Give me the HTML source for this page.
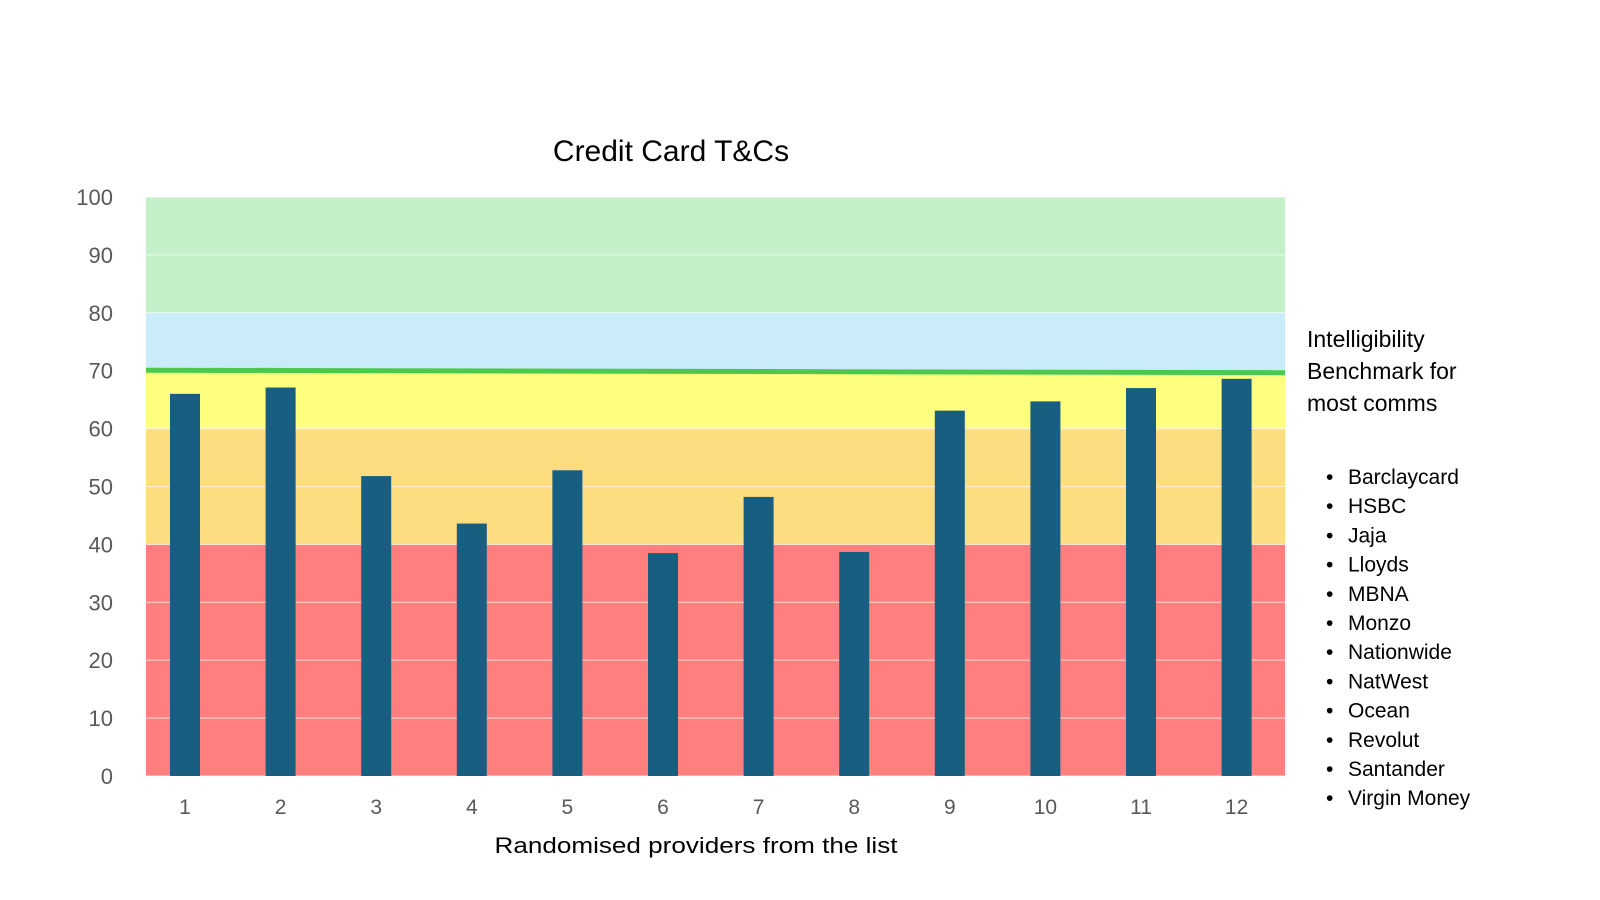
<!DOCTYPE html>
<html><head><meta charset="utf-8"><style>
body{margin:0;background:#fff;width:1600px;height:900px;overflow:hidden;font-family:"Liberation Sans",sans-serif}
svg{display:block}
</style></head><body>
<svg width="1600" height="900" id="chart">
<text x="671" y="161" font-size="30" text-anchor="middle" fill="#000">Credit Card T&amp;Cs</text>
<g id="bands"></g><g id="grid"></g><g id="bars"></g><g id="yticks"></g><g id="xticks"></g>
<text x="696" y="853" font-size="22" textLength="403" lengthAdjust="spacingAndGlyphs" text-anchor="middle" fill="#000">Randomised providers from the list</text>
<g font-size="23" fill="#000">
<text x="1307" y="347">Intelligibility</text><text x="1307" y="379">Benchmark for</text><text x="1307" y="411">most comms</text></g>
<g id="legend" font-size="21" fill="#000"></g>
</svg>
<script>
const categories=["1","2","3","4","5","6","7","8","9","10","11","12"];
const values=[66,67.1,51.8,43.6,52.8,38.5,48.2,38.7,63.1,64.7,67,68.6];
const yTicks=[0,10,20,30,40,50,60,70,80,90,100];
const bandFrom=[0,40,60,70,80];
const bandTo=[40,60,70,80,100];
const bandColors=["#ff7f7f","#fedc80","#ffff7f","#c9ebfa","#c3f0c8"];
const benchmark=70;
const providers=["Barclaycard","HSBC","Jaja","Lloyds","MBNA","Monzo","Nationwide","NatWest","Ocean","Revolut","Santander","Virgin Money"];
const NS="http://www.w3.org/2000/svg";
const X0=146,X1=1285,Y0=776,Y1=197;
const y=v=>Y0-(v/100)*(Y0-Y1);
const step=95.6, first=185;
const x=i=>first+step*i;
function mk(tag,attrs,parent,txt){const e=document.createElementNS(NS,tag);for(const k in attrs)e.setAttribute(k,attrs[k]);if(txt!==undefined)e.textContent=txt;document.getElementById(parent).appendChild(e);return e;}
bandFrom.forEach((f,i)=>{const e=mk('rect',{x:X0,y:y(bandTo[i]),width:X1-X0,height:y(f)-y(bandTo[i]),fill:bandColors[i]},'bands');

});
yTicks.forEach(t=>{const g=mk('line',{x1:X0,x2:X1,y1:y(t),y2:y(t),stroke:'#ffffff','stroke-opacity':0.6,'stroke-width':1.2},'grid');


const l=mk('text',{x:113,y:y(t)+8,'font-size':22,'text-anchor':'end',fill:'#595959'},'yticks',String(t));

});
const bl=mk('line',{x1:X0,x2:X1,y1:y(benchmark)-0.5,y2:y(benchmark)+2,stroke:'#4cc94c','stroke-width':5},'grid');


values.forEach((v,i)=>{const b=mk('rect',{x:x(i)-15,y:y(v),width:30,height:Y0-y(v),fill:'#175e81'},'bars');


const t=mk('text',{x:x(i),y:814,'font-size':21,'text-anchor':'middle',fill:'#595959'},'xticks',categories[i]);

});
providers.forEach((p,i)=>{const yy=484+i*29.2;
const t=mk('text',{x:1326,y:yy},'legend','•');


const n=mk('text',{x:1348,y:yy},'legend',p);

});
</script>
</body></html>
